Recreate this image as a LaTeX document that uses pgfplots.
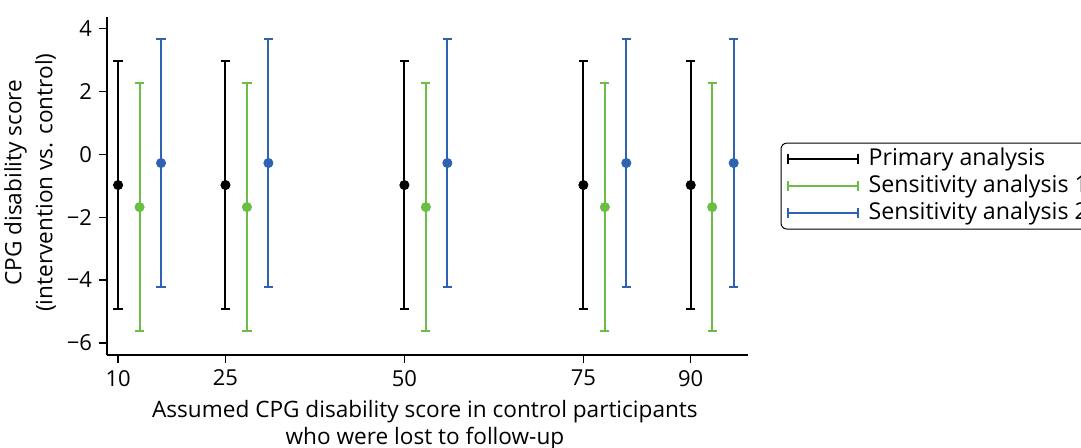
\documentclass[border=0pt]{standalone}
\usepackage{pgfplots}
\pgfplotsset{compat=1.18}
\usepackage{fontspec}
\setmainfont{Open Sans}
\definecolor{cgreen}{RGB}{106,189,69}
\definecolor{cblue}{RGB}{46,99,180}
\begin{document}
\begin{tikzpicture}
\begin{axis}[
  at={(0pt,0pt)}, anchor=south west,
  scale only axis, width=320.5pt, height=169pt,
  xmin=8.45, xmax=98, ymin=-6.38, ymax=4.36,
  axis x line*=bottom, axis y line*=left,
  axis line style={-, line width=0.6pt},
  xtick={10,25,50,75,90},
  ytick={-6,-4,-2,0,2,4},
  yticklabels={−6,−4,−2,0,2,4},
  tick align=outside, tick style={black, line width=0.6pt}, major tick length=4pt,
  font=\fontsize{11}{12}\selectfont,
  tick label style={font=\fontsize{11}{12}\selectfont},
  /pgf/number format/assume math mode=true,
  xlabel={Assumed CPG disability score in control participants\\who were lost to follow-up},
  xlabel style={align=center, at={(axis description cs:0.496,-0.207)}, anchor=center, font=\fontsize{11.3}{13.5}\selectfont},
  ylabel={CPG disability score\\(intervention vs. control)},
  ylabel style={align=center, at={(axis description cs:-0.12,0.51)}, anchor=center, font=\fontsize{11.3}{15.5}\selectfont},
  legend style={at={(axis description cs:1.0515,0.627)}, anchor=north west,
    draw=black, rounded corners=3pt, line width=0.5pt,
    font=\fontsize{11.6}{12}\selectfont, row sep=0pt,
    inner xsep=3pt, inner ysep=1.25pt, outer sep=0pt,
    nodes={inner xsep=5pt, inner ysep=0.5pt, text height=9.5pt, text depth=3pt}},
  legend cell align=left,
]
\addplot[only marks, black, mark=*, mark size=2.3pt,
  error bars/.cd, y dir=both, y explicit,
  error bar style={black, line width=1pt}, error mark options={black, rotate=90, mark size=2.3pt, line width=1pt},
  /pgfplots/legend image code/.code={\draw[black,line width=0.8pt] (0pt,0pt)--(35pt,0pt); \draw[black,line width=0.8pt] (0pt,-2.3pt)--(0pt,2.3pt); \draw[black,line width=0.8pt] (35pt,-2.3pt)--(35pt,2.3pt);}]
  table[x=x, y=y, y error plus=ep, y error minus=em] {
x y ep em
10 -0.98 3.95 3.95
25 -0.98 3.95 3.95
50 -0.98 3.95 3.95
75 -0.98 3.95 3.95
90 -0.98 3.95 3.95
};
\addlegendentry{Primary analysis}
\addplot[only marks, cgreen, mark=*, mark size=2.3pt,
  error bars/.cd, y dir=both, y explicit,
  error bar style={cgreen, line width=1pt}, error mark options={cgreen, rotate=90, mark size=2.3pt, line width=1pt},
  /pgfplots/legend image code/.code={\draw[cgreen,line width=0.8pt] (0pt,0pt)--(35pt,0pt); \draw[cgreen,line width=0.8pt] (0pt,-2.3pt)--(0pt,2.3pt); \draw[cgreen,line width=0.8pt] (35pt,-2.3pt)--(35pt,2.3pt);}]
  table[x=x, y=y, y error plus=ep, y error minus=em] {
x y ep em
13 -1.68 3.95 3.95
28 -1.68 3.95 3.95
53 -1.68 3.95 3.95
78 -1.68 3.95 3.95
93 -1.68 3.95 3.95
};
\addlegendentry{Sensitivity analysis 1}
\addplot[only marks, cblue, mark=*, mark size=2.3pt,
  error bars/.cd, y dir=both, y explicit,
  error bar style={cblue, line width=1pt}, error mark options={cblue, rotate=90, mark size=2.3pt, line width=1pt},
  /pgfplots/legend image code/.code={\draw[cblue,line width=0.8pt] (0pt,0pt)--(35pt,0pt); \draw[cblue,line width=0.8pt] (0pt,-2.3pt)--(0pt,2.3pt); \draw[cblue,line width=0.8pt] (35pt,-2.3pt)--(35pt,2.3pt);}]
  table[x=x, y=y, y error plus=ep, y error minus=em] {
x y ep em
16 -0.28 3.95 3.95
31 -0.28 3.95 3.95
56 -0.28 3.95 3.95
81 -0.28 3.95 3.95
96 -0.28 3.95 3.95
};
\addlegendentry{Sensitivity analysis 2}
\end{axis}
\pgfresetboundingbox
\path[use as bounding box] (-53.5pt,-46.5pt) rectangle (487pt,177.5pt);
\end{tikzpicture}
\end{document}
